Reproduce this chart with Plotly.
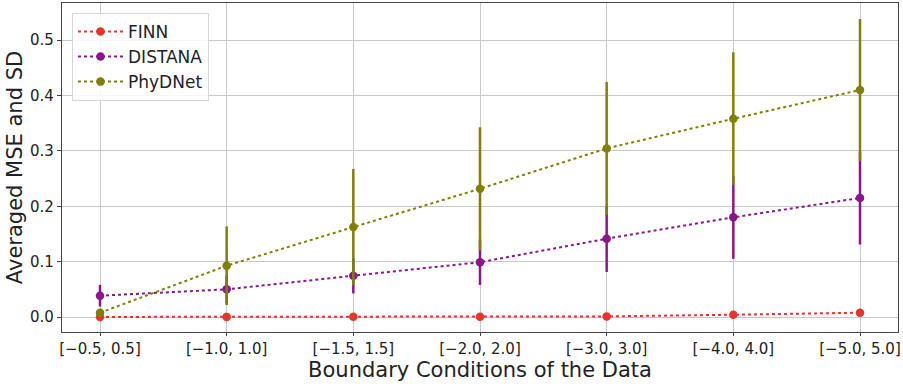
import plotly.graph_objects as go

categories = ["[−0.5, 0.5]", "[−1.0, 1.0]", "[−1.5, 1.5]", "[−2.0, 2.0]",
              "[−3.0, 3.0]", "[−4.0, 4.0]", "[−5.0, 5.0]"]

finn_mean = [0.0002, 0.0003, 0.0004, 0.0005, 0.0012, 0.0042, 0.0078]
finn_sd = [0.0001, 0.0001, 0.0002, 0.0002, 0.0005, 0.0015, 0.0025]

distana_mean = [0.0385, 0.0500, 0.0746, 0.0990, 0.1414, 0.1800, 0.2150]
distana_sd = [0.0195, 0.0250, 0.0320, 0.0410, 0.0600, 0.0750, 0.0840]

phydnet_mean = [0.0078, 0.0926, 0.1625, 0.2316, 0.3045, 0.3580, 0.4100]
phydnet_sd = [0.0050, 0.0710, 0.1050, 0.1110, 0.1200, 0.1200, 0.1280]

series = [
    ("FINN", finn_mean, finn_sd, "#e6352b"),
    ("DISTANA", distana_mean, distana_sd, "#8b168b"),
    ("PhyDNet", phydnet_mean, phydnet_sd, "#808000"),
]

xs = list(range(len(categories)))

fig = go.Figure()
for name, mean, sd, color in series:
    fig.add_trace(go.Scatter(
        x=xs, y=mean, name=name, mode="lines+markers",
        line=dict(color=color, dash="dot", width=2),
        marker=dict(color=color, size=8.5),
        error_y=dict(type="data", array=sd, visible=True, color=color,
                     thickness=2.5, width=0),
    ))

font = "DejaVu Sans, sans-serif"
fig.update_layout(
    width=903, height=384,
    margin=dict(l=62, r=5, t=3, b=52, autoexpand=False),
    paper_bgcolor="white", plot_bgcolor="white",
    font=dict(family=font, size=15, color="#222"),
    showlegend=True,
    legend=dict(x=0.012, y=0.97, xanchor="left", yanchor="top",
                bgcolor="rgba(255,255,255,0.85)", bordercolor="#d6d6d6",
                borderwidth=1, font=dict(size=17, family=font),
                itemwidth=45),
)
fig.update_xaxes(
    range=[-0.3, 6.3], tickmode="array", tickvals=xs, ticktext=categories,
    automargin=True,
    showgrid=True, gridcolor="#c8c8c8", gridwidth=1,
    showline=True, linecolor="#444", linewidth=1.2, mirror=True,
    ticks="outside", ticklen=3, tickcolor="#444",
    tickfont=dict(size=15, family=font),
    title=dict(text="Boundary Conditions of the Data", font=dict(size=21, family=font), standoff=1),
    zeroline=False,
)
fig.update_yaxes(
    range=[-0.027, 0.567], tickmode="array",
    tickvals=[0.0, 0.1, 0.2, 0.3, 0.4, 0.5],
    ticktext=["0.0", "0.1", "0.2", "0.3", "0.4", "0.5"],
    automargin=True,
    showgrid=True, gridcolor="#c8c8c8", gridwidth=1,
    showline=True, linecolor="#444", linewidth=1.2, mirror=True,
    ticks="outside", ticklen=4, tickcolor="#444",
    tickfont=dict(size=15, family=font),
    title=dict(text="Averaged MSE and SD", font=dict(size=21, family=font), standoff=1),
    zeroline=False,
)

fig.write_html("out.html", config={"displayModeBar": False},
               post_script="document.body.style.margin='0';document.body.style.overflow='hidden';")
